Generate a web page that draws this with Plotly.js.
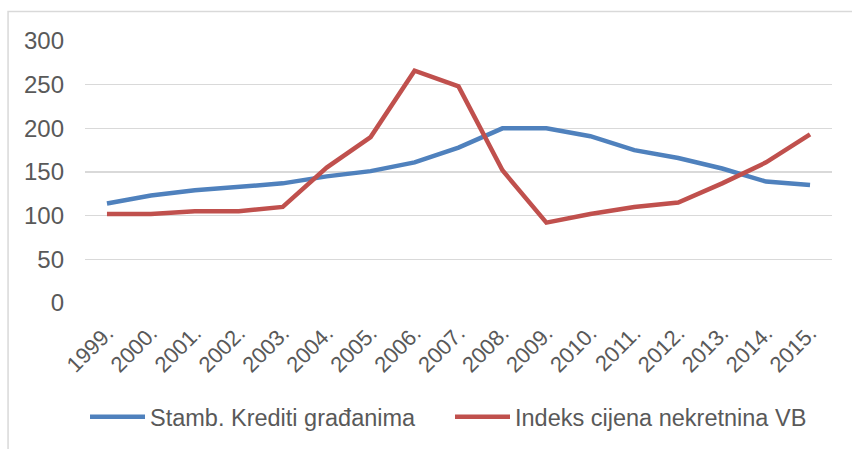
<!DOCTYPE html>
<html>
<head>
<meta charset="utf-8">
<script src="https://cdn.plot.ly/plotly-3.0.1.min.js"></script>
<style>
html,body{margin:0;padding:0;background:#fff;}
#chart{width:852px;height:449px;}
</style>
</head>
<body>
<div id="chart"></div>
<script>
const years = ["1999.","2000.","2001.","2002.","2003.","2004.","2005.","2006.","2007.","2008.","2009.","2010.","2011.","2012.","2013.","2014.","2015."];
const stambKrediti = [114,123,129,133,137,145,151,161,178,200,200,191,175,166,154,139,135];
const indeksCijena = [102,102,105,105,110,155,190,266,248,152,92,102,110,115,137,161,193];
const seriesNames = ["Stamb. Krediti građanima","Indeks cijena nekretnina VB"];
const yTicks = [0,50,100,150,200,250,300];

const traces = [
  {x: years, y: stambKrediti, name: seriesNames[0], type: "scatter", mode: "lines",
   line: {color: "#4F81BD", width: 4.5}},
  {x: years, y: indeksCijena, name: seriesNames[1], type: "scatter", mode: "lines",
   line: {color: "#C0504D", width: 4.5}}
];

const layout = {
  width: 852, height: 449,
  margin: {l: 85, r: 20, t: 41, b: 146, autoexpand: false},
  paper_bgcolor: "#ffffff", plot_bgcolor: "#ffffff",
  font: {family: "Liberation Sans, Arial, sans-serif", color: "#595959", size: 20},
  showlegend: true,
  legend: {orientation: "h", x: 0.0, xanchor: "left", y: -0.435, yanchor: "middle",
           font: {size: 23.5, color: "#595959"}, entrywidth: 295, entrywidthmode: "pixels",
           itemwidth: 55, traceorder: "normal"},
  xaxis: {type: "category", range: [-0.5, 16.5], tickangle: -45, showgrid: false,
          showline: false, zeroline: false, ticks: "", tickfont: {size: 22},
          ticklabelstandoff: 12, automargin: false},
  yaxis: {range: [0, 300], tickvals: yTicks, showgrid: true, gridcolor: "#D9D9D9", gridwidth: 1.3,
          zeroline: false, showline: false, ticks: "", tickfont: {size: 24},
          ticklabelstandoff: 20, automargin: false},
  shapes: [{type: "rect", xref: "paper", yref: "paper", x0: -0.103, x1: 1.2, y0: 1.113, y1: -1.0,
            line: {color: "#D9D9D9", width: 1.5}, fillcolor: "rgba(0,0,0,0)", layer: "below"}]
};

Plotly.newPlot("chart", traces, layout, {displayModeBar: false, staticPlot: true});
</script>
</body>
</html>
